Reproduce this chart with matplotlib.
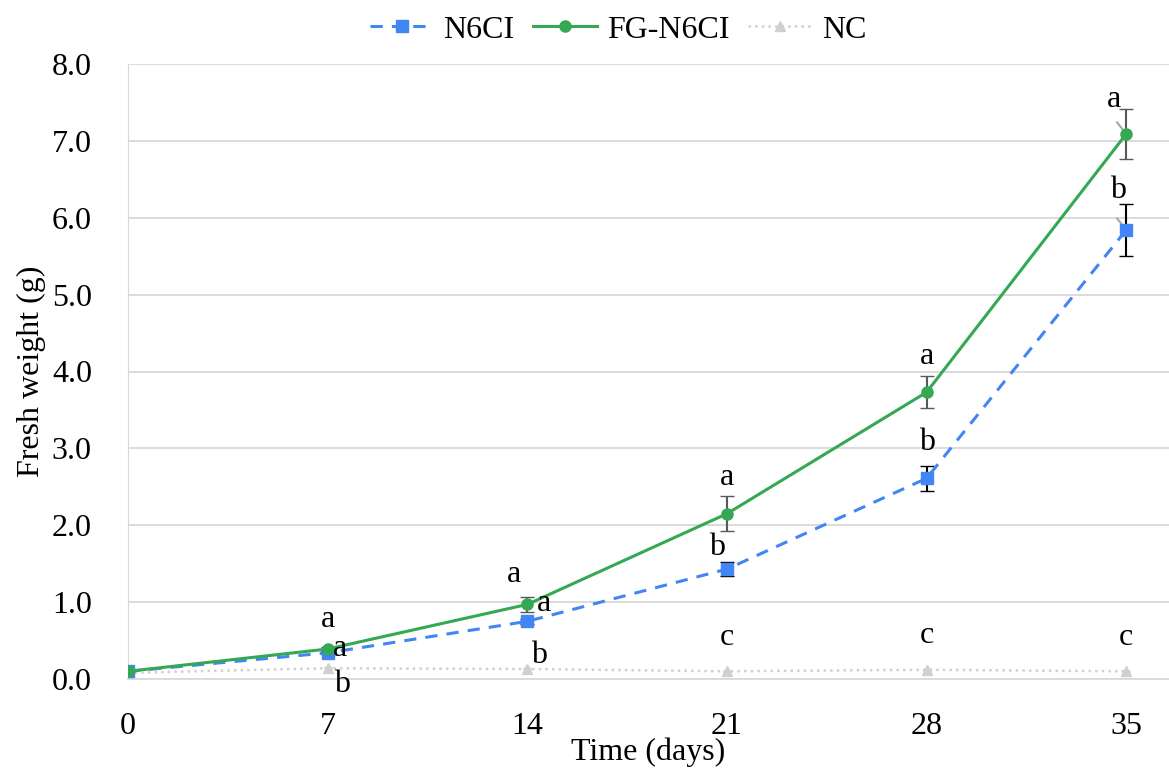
import matplotlib.pyplot as plt
from matplotlib.lines import Line2D

plt.rcParams['font.family'] = ['Liberation Serif', 'DejaVu Serif']

days = [0, 7, 14, 21, 28, 35]
n6ci = [0.10, 0.34, 0.75, 1.43, 2.61, 5.84]
n6ci_err = [0.0, 0.02, 0.03, 0.09, 0.16, 0.34]
fg_n6ci = [0.10, 0.39, 0.97, 2.15, 3.73, 7.09]
fg_err = [0.0, 0.03, 0.10, 0.23, 0.21, 0.33]
nc = [0.08, 0.14, 0.13, 0.10, 0.12, 0.10]
nc_err = [0.0, 0.01, 0.01, 0.01, 0.01, 0.01]

# significance letters: (day, label, x offset px, y offset px) relative to point
letters_fg = [(7, 'a', 0, 30), (14, 'a', -13, 30), (21, 'a', 0, 36), (28, 'a', 0, 36), (35, 'a', -12, 34)]
letters_n6 = [(7, 'a', 12, 4), (14, 'a', 17, 18), (21, 'b', -10, 22), (28, 'b', 0, 36), (35, 'b', -8, 40)]
letters_nc = [(7, 'b', 14, -16), (14, 'b', 12, 14), (21, 'c', 0, 34), (28, 'c', 0, 34), (35, 'c', 0, 34)]

fig = plt.figure(figsize=(11.69, 7.73), dpi=100)
ax = fig.add_axes([128 / 1169, 94 / 773, 1041 / 1169, 615 / 773])

blue = '#4285f4'
green = '#34a853'
grey = '#d0d0d0'

ax.errorbar(days, n6ci, yerr=n6ci_err, color=blue, ls=(0, (4, 3)), lw=2.2,
            marker='s', ms=8, ecolor='black', elinewidth=1.5, capsize=5, zorder=4)
ax.errorbar(days, fg_n6ci, yerr=fg_err, color=green, ls='-', lw=2.2,
            marker='o', ms=8, ecolor='#595959', elinewidth=1.5, capsize=5, zorder=5)
ax.errorbar(days, nc, yerr=nc_err, color=grey, ls=':', lw=1.8,
            marker='^', ms=7, ecolor='#bfbfbf', elinewidth=1, capsize=3, zorder=3)

for vals, letters in [(fg_n6ci, letters_fg), (n6ci, letters_n6), (nc, letters_nc)]:
    for d, lab, dx, dy in letters:
        y = vals[days.index(d)]
        ax.annotate(lab, (d, y), xytext=(dx, dy), textcoords='offset pixels',
                    ha='center', va='center', fontsize=23, zorder=6)

# leader lines at day 35
for y in [fg_n6ci[-1], n6ci[-1]]:
    ax.annotate('', (35, y), xytext=(-11, 14), textcoords='offset pixels',
                arrowprops=dict(arrowstyle='-', color='#a6a6a6', lw=1.5))

ax.set_xlim(0, 36.5)
ax.set_ylim(0, 8)
ax.set_xticks(days)
ax.set_yticks([i for i in range(9)])
ax.set_yticklabels(['%.1f' % i for i in range(9)])
ax.tick_params(length=0, labelsize=23)
ax.tick_params(axis='y', pad=26)
ax.tick_params(axis='x', pad=24)
ax.grid(axis='y', color='#d9d9d9', lw=1.3)
ax.set_axisbelow(True)
for s in ['top', 'right']:
    ax.spines[s].set_visible(False)
ax.spines['left'].set_color('#d9d9d9')
ax.spines['bottom'].set_color('#d9d9d9')
ax.spines['bottom'].set_linewidth(1.3)

ax.set_xlabel('Time (days)', fontsize=23, labelpad=-3)
ax.set_ylabel('Fresh weight (g)', fontsize=23, labelpad=4)

handles = [
    Line2D([], [], color=blue, ls=(0, (4, 3)), lw=2.2, marker='s', ms=8),
    Line2D([], [], color=green, ls='-', lw=2.2, marker='o', ms=8),
    Line2D([], [], color=grey, ls=':', lw=1.8, marker='^', ms=7),
]
fig.legend(handles, ['N6CI', 'FG-N6CI', 'NC'], loc='center', bbox_to_anchor=(618 / 1169, 1 - 30 / 773),
           ncol=3, frameon=False, fontsize=23, handlelength=2.0, columnspacing=0.6, handletextpad=0.3)

fig.savefig('out.png', dpi=100)
